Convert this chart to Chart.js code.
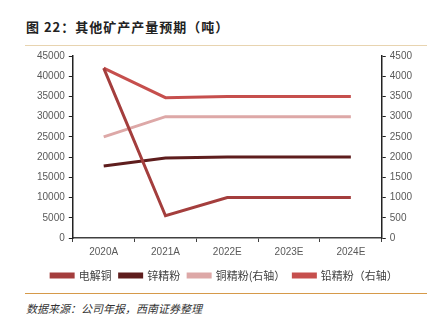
<!DOCTYPE html>
<html>
<head>
<meta charset="utf-8">
<script src="https://cdn.jsdelivr.net/npm/chart.js@4"></script>
<style>
  body { margin: 0; background: #fff; width: 427px; height: 326px; position: relative; overflow: hidden; font-family: "Noto Sans CJK SC", sans-serif; }
  #title { position: absolute; left: 26px; top: 17px; font-size: 13px; font-weight: bold; color: #222; letter-spacing: 1px; }
  #topline { position: absolute; left: 25px; right: 0; top: 45px; height: 1px; background: #E8D4B0; }
  #botline { position: absolute; left: 25px; right: 0; top: 293px; height: 1px; background: #D69A4A; }
  #source { position: absolute; left: 26px; top: 300px; font-size: 11px; font-style: italic; color: #333; }
  #wrap { position: absolute; left: 0; top: 46px; width: 427px; height: 245px; }
</style>
</head>
<body>
<div id="title">图 22：其他矿产产量预期（吨）</div>
<div id="topline"></div>
<div id="wrap"><canvas id="Linechart"></canvas></div>
<div id="botline"></div>
<div id="source">数据来源：公司年报，西南证券整理</div>
<script>
var years = ['2020A', '2021A', '2022E', '2023E', '2024E']
var dianjietong = [42000, 5500, 10000, 10000, 10000]   // 电解铜, left axis
var xinjingfen = [17800, 19800, 20000, 20000, 20000]   // 锌精粉, left axis
var tongjingfen = [2500, 3000, 3000, 3000, 3000]       // 铜精粉, right axis
var qianjingfen = [4200, 3470, 3500, 3500, 3500]       // 铅精粉, right axis
var leftTicks = [0, 5000, 10000, 15000, 20000, 25000, 30000, 35000, 40000, 45000]
var rightTicks = [0, 500, 1000, 1500, 2000, 2500, 3000, 3500, 4000, 4500]

var tickFont = { family: 'Liberation Sans, Arial', size: 10 }

var data = {
    labels: years,
    datasets: [{
            label: '电解铜',
            data: dianjietong,
            borderColor: '#A43E3D',
            backgroundColor: '#A43E3D',
            yAxisID: 'y'
        },
        {
            label: '锌精粉',
            data: xinjingfen,
            borderColor: '#5E1D1D',
            backgroundColor: '#5E1D1D',
            yAxisID: 'y'
        },
        {
            label: '铜精粉(右轴）',
            data: tongjingfen,
            borderColor: '#DDA8A7',
            backgroundColor: '#DDA8A7',
            yAxisID: 'y1'
        },
        {
            label: '铅精粉（右轴）',
            data: qianjingfen,
            borderColor: '#C64F4D',
            backgroundColor: '#C64F4D',
            yAxisID: 'y1'
        }
    ]
}

let canvas = document.getElementById('Linechart')

let config = {
    type: 'line',
    data: data,
    options: {
        responsive: true,
        maintainAspectRatio: false,
        animation: false,
        layout: {
            padding: { left: 33, right: 11, top: 4, bottom: 0 }
        },
        elements: {
            line: { borderWidth: 3, tension: 0 },
            point: { radius: 0 }
        },
        plugins: {
            legend: {
                position: 'bottom',
                labels: {
                    color: '#404040',
                    boxWidth: 22,
                    boxHeight: 3,
                    padding: 8,
                    font: { family: 'Noto Sans CJK SC', size: 11 }
                }
            },
            tooltip: { enabled: false }
        },
        scales: {
            x: {
                offset: true,
                grid: {
                    display: true,
                    drawOnChartArea: false,
                    offset: true,
                    tickLength: 4,
                    color: '#404040'
                },
                border: { color: '#404040', width: 1.5 },
                ticks: { color: '#595959', font: tickFont, padding: 4 }
            },
            y: {
                position: 'left',
                min: 0,
                max: 45000,
                afterBuildTicks: (axis) => { axis.ticks = leftTicks.map(v => ({ value: v })) },
                grid: { drawOnChartArea: false, tickLength: 4, color: '#222' },
                border: { color: '#222', width: 1.5 },
                ticks: { color: '#595959', font: tickFont, padding: 4, callback: (v) => String(v) }
            },
            y1: {
                position: 'right',
                min: 0,
                max: 4500,
                afterBuildTicks: (axis) => { axis.ticks = rightTicks.map(v => ({ value: v })) },
                grid: { drawOnChartArea: false, tickLength: 4, color: '#222' },
                border: { color: '#222', width: 1.5 },
                ticks: { color: '#595959', font: tickFont, padding: 4, callback: (v) => String(v) }
            }
        }
    }
};

var LineChart = new Chart(canvas, config);
</script>
</body>
</html>
